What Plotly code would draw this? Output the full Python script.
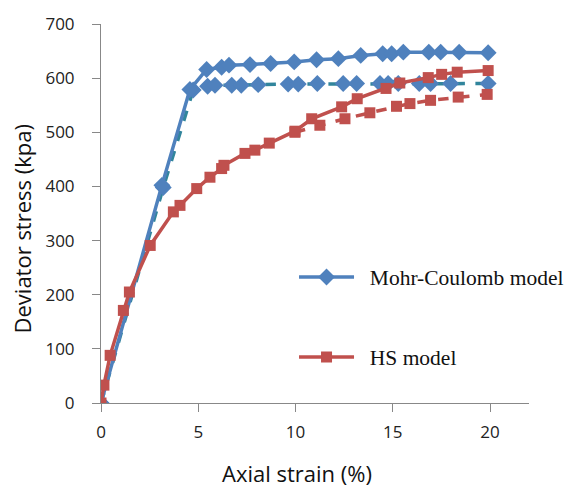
import plotly.graph_objects as go

# Mohr-Coulomb model (solid)
mc_x = [0, 3.13, 4.57, 5.43, 6.2, 6.58, 7.66, 8.72, 9.93, 11.08, 12.2, 13.35, 14.48, 14.94, 15.54, 16.85, 17.46, 18.41, 19.9]
mc_y = [0, 402, 579, 616, 620, 624, 625, 627, 630, 634, 636, 642, 645, 645, 648, 648, 648, 648, 647]

# Mohr-Coulomb (dashed companion)
mc2_x = [0, 3.2, 4.74, 5.48, 5.86, 6.72, 7.21, 8.08, 9.62, 10.14, 11.12, 12.45, 13.14, 14.34, 14.76, 15.28, 16.36, 16.94, 17.97, 19.9]
mc2_y = [0, 398, 578, 585, 587, 587, 587, 588, 589, 589, 590, 590, 590, 590, 590, 590, 590, 590, 590, 590]

# HS model (solid)
hs_x = [0, 0.15, 0.47, 1.15, 1.46, 2.53, 3.72, 4.06, 4.92, 5.6, 6.2, 6.32, 7.4, 7.91, 8.65, 9.97, 10.83, 12.37, 13.17, 14.65, 15.36, 16.82, 17.51, 18.31, 19.9]
hs_y = [0, 33, 88, 171, 205, 291, 353, 365, 396, 417, 433, 439, 461, 467, 480, 502, 525, 547, 562, 581, 591, 601, 607, 611, 614]

# HS model (dashed companion)
hs2_x = [9.97, 11.25, 12.54, 13.82, 15.19, 15.88, 16.94, 18.36, 19.85]
hs2_y = [500, 513, 525, 536, 548, 553, 559, 565, 570]

x_ticks = [0, 5, 10, 15, 20]
y_ticks = [0, 100, 200, 300, 400, 500, 600, 700]
x_title = "Axial strain (%)"
y_title = "Deviator stress (kpa)"

BLUE = "#4F81BD"
TEAL = "#31859C"
RED = "#C0504D"

fig = go.Figure()
fig.add_trace(go.Scatter(x=mc2_x, y=mc2_y, mode="lines+markers", showlegend=False,
                         line=dict(color=TEAL, width=3.5, dash="dash"),
                         marker=dict(symbol="diamond", size=13, color=BLUE)))
fig.add_trace(go.Scatter(x=hs2_x, y=hs2_y, mode="lines+markers", showlegend=False,
                         line=dict(color=RED, width=3.5, dash="dash"),
                         marker=dict(symbol="square", size=11, color=RED)))
fig.add_trace(go.Scatter(x=mc_x, y=mc_y, mode="lines+markers", name="\u00a0\u00a0Mohr-Coulomb model",
                         legendgroup="a",
                         line=dict(color=BLUE, width=3.5),
                         marker=dict(symbol="diamond", size=13, color=BLUE)))
fig.add_trace(go.Scatter(x=hs_x, y=hs_y, mode="lines+markers", name="\u00a0\u00a0HS model",
                         legendgroup="b",
                         line=dict(color=RED, width=3.5),
                         marker=dict(symbol="square", size=11, color=RED)))

axis_common = dict(showgrid=False, zeroline=False, showline=True, linecolor="#888888", linewidth=1,
                   ticks="outside", ticklen=8, tickcolor="#888888",
                   tickfont=dict(family="Open Sans", size=17, color="#222222"))

fig.update_layout(
    width=569, height=490,
    margin=dict(l=101, r=40, t=24, b=87, autoexpand=False),
    paper_bgcolor="white", plot_bgcolor="white",
    xaxis=dict(range=[0, 22], tickvals=x_ticks, **axis_common, ticklabelstandoff=6),
    yaxis=dict(range=[0, 700], tickvals=y_ticks, **axis_common, ticklabelstandoff=14),
    legend=dict(x=0.451, y=0.227, xanchor="left", yanchor="middle", tracegroupgap=49,
                itemwidth=55, bgcolor="rgba(0,0,0,0)",
                font=dict(family="Liberation Serif", size=21.5, color="#111111")),
    showlegend=True,
    annotations=[
        dict(text=x_title, xref="paper", yref="paper", x=0.457, y=-0.185,
             xanchor="center", yanchor="middle", showarrow=False,
             font=dict(family="Open Sans", size=22, color="#111111")),
        dict(text=y_title, xref="paper", yref="paper", x=-0.185, y=0.46,
             xanchor="center", yanchor="middle", showarrow=False, textangle=-90,
             font=dict(family="Open Sans", size=22, color="#111111")),
    ],
)

fig.write_html("out.html")
